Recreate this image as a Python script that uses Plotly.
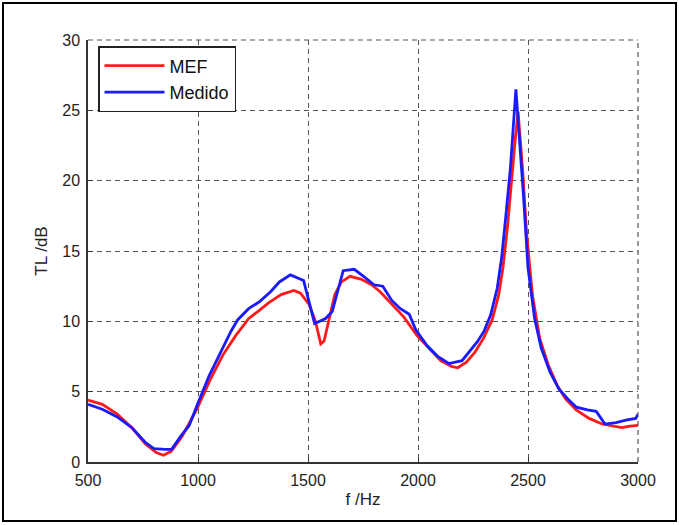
import plotly.graph_objects as go

mef_f = [500, 565, 633, 702, 760, 810, 843, 878, 927, 996, 1054, 1113, 1172, 1231, 1280, 1319, 1378, 1436, 1466, 1505, 1534, 1558, 1573, 1593, 1622, 1652, 1691, 1740, 1789, 1828, 1877, 1936, 1995, 2054, 2103, 2152, 2181, 2220, 2259, 2298, 2337, 2367, 2386, 2406, 2425, 2441, 2455, 2475, 2494, 2520, 2553, 2592, 2631, 2670, 2719, 2778, 2837, 2876, 2925, 2964, 3000]
mef_tl = [4.4, 4.1, 3.4, 2.4, 1.3, 0.67, 0.48, 0.76, 1.8, 3.8, 5.8, 7.6, 9.0, 10.2, 10.8, 11.3, 11.9, 12.2, 12.0, 11.2, 10.0, 8.4, 8.6, 10.0, 11.9, 12.8, 13.2, 13.0, 12.6, 12.1, 11.3, 10.3, 9.0, 8.0, 7.2, 6.8, 6.7, 7.1, 7.8, 8.8, 10.1, 11.9, 13.8, 16.6, 20.2, 22.8, 24.9, 20.9, 16.2, 11.9, 8.8, 6.9, 5.5, 4.5, 3.7, 3.1, 2.7, 2.6, 2.45, 2.55, 2.6]

med_f = [500, 565, 633, 702, 760, 800, 850, 880, 920, 960, 1000, 1050, 1100, 1150, 1180, 1230, 1280, 1330, 1370, 1420, 1480, 1530, 1580, 1610, 1660, 1710, 1760, 1800, 1840, 1880, 1920, 1960, 1990, 2040, 2090, 2140, 2200, 2240, 2270, 2300, 2330, 2360, 2380, 2400, 2420, 2445, 2460, 2480, 2500, 2530, 2560, 2600, 2640, 2680, 2720, 2770, 2810, 2850, 2900, 2950, 2990, 3000]
med_tl = [4.1, 3.75, 3.2, 2.4, 1.4, 0.95, 0.9, 0.9, 1.8, 2.6, 4.2, 6.1, 7.7, 9.3, 10.1, 10.9, 11.4, 12.1, 12.8, 13.3, 12.9, 9.85, 10.2, 10.7, 13.6, 13.7, 13.1, 12.6, 12.5, 11.5, 10.9, 10.5, 9.4, 8.3, 7.5, 7.0, 7.2, 8.0, 8.55, 9.3, 10.45, 12.35, 14.5, 17.6, 20.9, 26.5, 23.3, 18.8, 13.8, 10.2, 8.1, 6.4, 5.2, 4.5, 3.9, 3.7, 3.6, 2.7, 2.8, 3.0, 3.1, 3.4]

x_ticks = [500, 1000, 1500, 2000, 2500, 3000]
y_ticks = [0, 5, 10, 15, 20, 25, 30]

fig = go.Figure()
fig.add_trace(go.Scatter(x=mef_f, y=mef_tl, mode="lines", name="MEF",
                         line=dict(color="#ff1a1a", width=2.8)))
fig.add_trace(go.Scatter(x=med_f, y=med_tl, mode="lines", name="Medido",
                         line=dict(color="#1a1aff", width=2.8)))

L, R, T, B = 88, 638, 40, 462
W, H = 679, 525
pw, ph = R - L, B - T

DASH = "5px,4px"
grid = dict(showgrid=True, gridcolor="#555555", griddash=DASH, gridwidth=1.2)
fig.update_layout(
    width=W, height=H,
    margin=dict(l=L, r=W - R, t=T, b=H - B),
    paper_bgcolor="white", plot_bgcolor="white",
    font=dict(family="Liberation Sans, Arial, sans-serif", color="#222222"),
    showlegend=True,
    legend=dict(x=(98 - L) / pw, y=1 - (46 - T) / ph, xanchor="left", yanchor="top",
                bordercolor="#222222", borderwidth=1.5, bgcolor="white",
                font=dict(size=18, color="#111111"), tracegroupgap=0,
                itemwidth=60),
    xaxis=dict(range=[500, 3000], tickvals=x_ticks, ticktext=[str(v) for v in x_ticks],
               showline=True, linecolor="#333333", linewidth=1.5,
               ticks="inside", ticklen=5, tickcolor="#333333",
               tickfont=dict(size=16), zeroline=False, ticklabelstandoff=3,
               title=dict(text="f /Hz", font=dict(size=17), standoff=5), **grid),
    yaxis=dict(range=[0, 30], tickvals=y_ticks, ticktext=[str(v) for v in y_ticks],
               showline=True, linecolor="#333333", linewidth=1.5,
               ticks="inside", ticklen=5, tickcolor="#333333",
               tickfont=dict(size=16), zeroline=False, ticklabelstandoff=3,
               title=dict(text="TL /dB", font=dict(size=17), standoff=10), **grid),
)

# dashed top and right borders of the axes box
fig.add_shape(type="line", xref="paper", yref="paper", x0=0, x1=1, y0=1, y1=1,
              line=dict(color="#555555", width=1.2, dash=DASH))
fig.add_shape(type="line", xref="paper", yref="paper", x0=1, x1=1, y0=0, y1=1,
              line=dict(color="#555555", width=1.2, dash=DASH))

# outer frame around the whole picture
fig.add_shape(type="rect", xref="paper", yref="paper",
              x0=(3 - L) / pw, x1=(676 - L) / pw,
              y0=1 - (521 - T) / ph, y1=1 - (3 - T) / ph,
              line=dict(color="black", width=2), layer="below")

fig.write_html("out.html")
